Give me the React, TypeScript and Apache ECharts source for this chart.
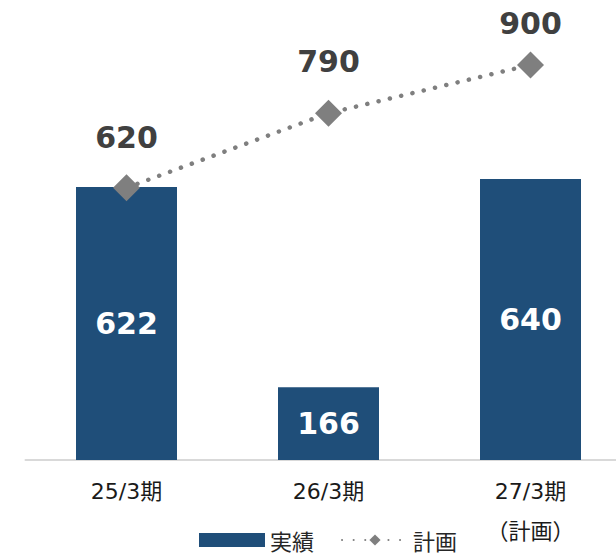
import React, { useEffect, useRef } from "react";
import * as echarts from "echarts";

const categories = ["25/3期", "26/3期", "27/3期\n（計画）"];
const actualValues = [622, 166, 640];
const planValues = [620, 790, 900];
const planLabelDistances = [22, 23, 13];
const seriesNames = ["実績", "計画"];

const LATIN = "'DejaVu Sans', 'Noto Sans CJK JP', sans-serif";
const CJK = "'Noto Sans CJK JP', 'DejaVu Sans', sans-serif";

export default function App() {
  const ref = useRef<HTMLDivElement>(null);
  useEffect(() => {
    if (!ref.current) return;
    const chart = echarts.init(ref.current, undefined, { renderer: "svg" });
    chart.setOption({
      animation: false,
      backgroundColor: "#ffffff",
      grid: { left: 25.5, top: 21, width: 606, height: 439 },
      legend: {
        left: 194,
        top: 524,
        itemWidth: 66,
        itemHeight: 14,
        itemGap: 27,
        textStyle: { fontFamily: CJK, fontSize: 22, color: "#262626" },
        data: [
          { name: seriesNames[0], icon: "rect" },
          { name: seriesNames[1] },
        ],
      },
      xAxis: {
        type: "category",
        data: categories,
        axisTick: { show: false },
        axisLine: { lineStyle: { color: "#d9d9d9", width: 2 } },
        axisLabel: {
          margin: 11,
          fontFamily: LATIN,
          fontSize: 22,
          lineHeight: 40,
          color: "#1a1a1a",
          interval: 0,
        },
      },
      yAxis: {
        type: "value",
        min: 0,
        max: 1000,
        show: false,
        splitLine: { show: false },
      },
      series: [
        {
          name: seriesNames[0],
          type: "bar",
          data: actualValues,
          barWidth: "50%",
          itemStyle: { color: "#1F4E79" },
          label: {
            show: true,
            position: "inside",
            color: "#ffffff",
            fontFamily: LATIN,
            fontWeight: "bold",
            fontSize: 30,
          },
        },
        {
          name: seriesNames[1],
          type: "line",
          data: planValues.map((v, i) => ({
            value: v,
            label: { distance: planLabelDistances[i] },
          })),
          symbol: "diamond",
          symbolSize: 27,
          itemStyle: { color: "#7f7f7f" },
          lineStyle: { color: "#7f7f7f", width: 4.5, type: [0.1, 11.5], cap: "round" },
          label: {
            show: true,
            position: "top",
            color: "#404040",
            fontFamily: LATIN,
            fontWeight: "bold",
            fontSize: 30,
          },
          z: 3,
        },
      ],
    });
    return () => chart.dispose();
  }, []);
  return (
    <div style={{ width: 616, height: 556, position: "absolute", left: 0, top: 0, overflow: "hidden", background: "#fff" }}>
      <div ref={ref} style={{ width: 632, height: 556 }} />
    </div>
  );
}
